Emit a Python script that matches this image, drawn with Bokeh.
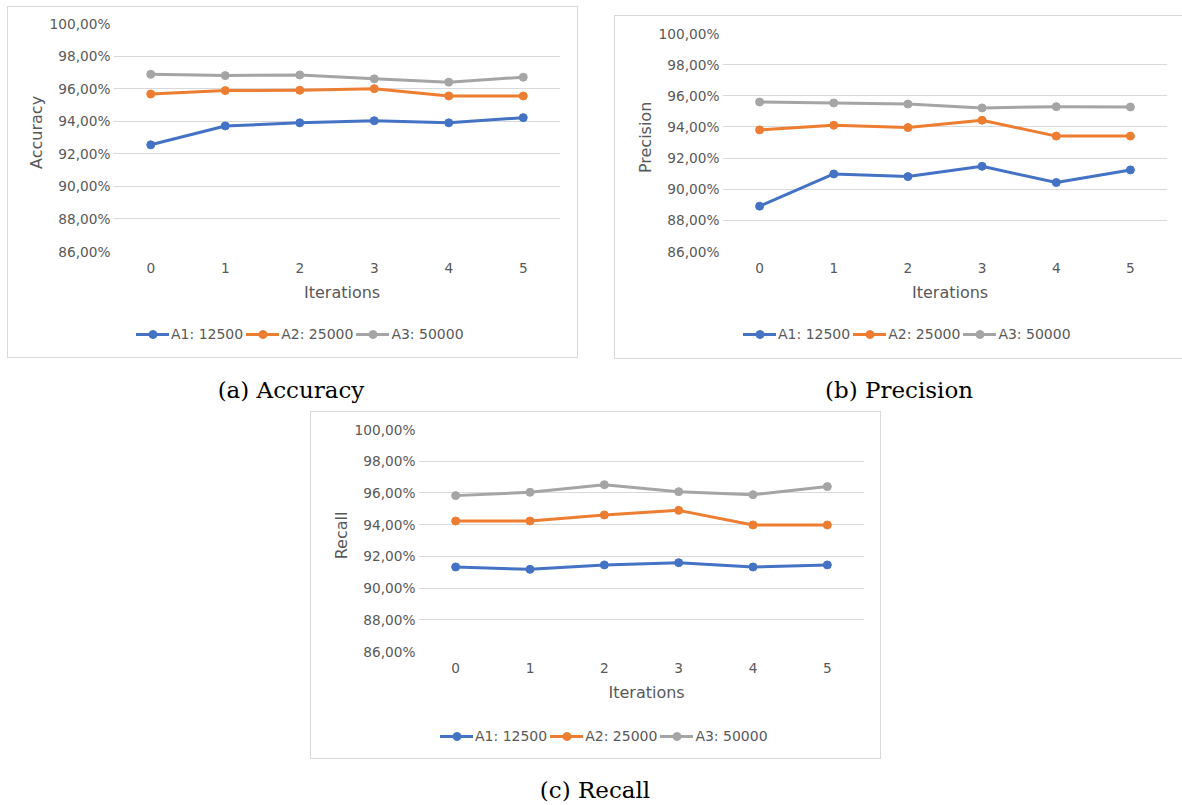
from bokeh.plotting import figure
from bokeh.models import (FactorRange, Range1d, FixedTicker, CustomJSTickFormatter,
                          Legend, LegendItem, Div, Spacer)
from bokeh.layouts import row, column
from bokeh.embed import file_html
from bokeh.resources import INLINE

# ---------------- data ----------------
iterations = ["0", "1", "2", "3", "4", "5"]
series_names = ["A1: 12500", "A2: 25000", "A3: 50000"]
series_colors = ["#4472C4", "#ED7D31", "#A5A5A5"]

accuracy_a1 = [92.55, 93.71, 93.90, 94.03, 93.90, 94.22]
accuracy_a2 = [95.67, 95.88, 95.90, 96.00, 95.55, 95.55]
accuracy_a3 = [96.88, 96.80, 96.84, 96.60, 96.40, 96.70]

precision_a1 = [88.91, 90.98, 90.81, 91.47, 90.43, 91.24]
precision_a2 = [93.81, 94.11, 93.96, 94.43, 93.41, 93.41]
precision_a3 = [95.60, 95.54, 95.47, 95.22, 95.30, 95.28]

recall_a1 = [91.33, 91.18, 91.46, 91.60, 91.33, 91.46]
recall_a2 = [94.23, 94.23, 94.61, 94.90, 93.98, 93.98]
recall_a3 = [95.83, 96.04, 96.52, 96.08, 95.89, 96.40]

y_ticks = [86, 88, 90, 92, 94, 96, 98, 100]
captions = ["(a) Accuracy", "(b) Precision", "(c) Recall"]
x_title = "Iterations"

TEXT = "#595959"
GRID = "#D9D9D9"
FONT = "DejaVu Sans"
OUTLINE = {"outline": "1px solid #D9D9D9", "background": "white"}
NB = "\u00a0\u00a0"  # small lead-in so the titles sit where Excel puts them


def make_chart(ylabel, series, w, h_main, h_leg, bl, br, bt, leg_xy):
    p = figure(x_range=FactorRange(factors=iterations), y_range=Range1d(86, 100),
               width=w, height=h_main, min_border_left=bl, min_border_right=br,
               min_border_top=bt, min_border_bottom=64,
               output_backend="svg", toolbar_location=None, tools="")
    p.outline_line_color = None
    p.background_fill_color = "white"
    p.border_fill_color = "white"

    p.xgrid.grid_line_color = None
    p.ygrid.grid_line_color = GRID
    p.ygrid.grid_line_width = 1
    p.yaxis.ticker = FixedTicker(ticks=y_ticks)
    p.ygrid.ticker = FixedTicker(ticks=y_ticks)
    p.yaxis.formatter = CustomJSTickFormatter(
        code="return tick.toFixed(2).replace('.', ',') + '%';")

    for ax in (p.xaxis[0], p.yaxis[0]):
        ax.axis_line_color = None
        ax.major_tick_line_color = None
        ax.minor_tick_line_color = None
        ax.major_tick_out = 0
        ax.major_tick_in = 0
        ax.minor_tick_out = 0
        ax.major_label_text_font = FONT
        ax.major_label_text_font_size = "13.7px"
        ax.major_label_text_color = TEXT
        ax.axis_label_text_font = FONT
        ax.axis_label_text_font_size = "16px"
        ax.axis_label_text_font_style = "normal"
        ax.axis_label_text_color = TEXT

    p.xaxis.axis_label = NB + x_title
    p.xaxis.major_label_standoff = 11
    p.xaxis.axis_label_standoff = 7
    p.yaxis.axis_label = NB + ylabel
    p.yaxis.major_label_standoff = 3
    p.yaxis.axis_label_standoff = 1

    for vals, col in zip(series, series_colors):
        p.line(x=iterations, y=vals, line_color=col, line_width=3,
               line_join="round", line_cap="round")
        p.scatter(x=iterations, y=vals, size=8, fill_color=col,
                  line_color=col, marker="circle")

    # legend strip (same box, below the plot); its series lie outside its view
    lg = figure(x_range=FactorRange(factors=iterations), y_range=Range1d(0, 1),
                width=w, height=h_leg, min_border=0, x_axis_type=None,
                y_axis_type=None, output_backend="svg", toolbar_location=None,
                tools="")
    lg.outline_line_color = None
    lg.grid.visible = False
    lg.background_fill_color = "white"
    lg.border_fill_color = "white"
    items = []
    for name, vals, col in zip(series_names, series, series_colors):
        ln = lg.line(x=iterations, y=vals, line_color=col, line_width=3,
                     line_cap="round")
        sc = lg.scatter(x=iterations, y=vals, size=8, fill_color=col,
                        line_color=col, marker="circle")
        items.append(LegendItem(label=name, renderers=[ln, sc]))
    leg = Legend(items=items, orientation="horizontal", location=leg_xy,
                 glyph_width=33, glyph_height=20, label_height=20,
                 label_standoff=2, spacing=3, padding=0, margin=0,
                 border_line_color=None, background_fill_alpha=0,
                 label_text_font=FONT, label_text_font_size="14px",
                 label_text_color=TEXT)
    lg.add_layout(leg)
    return column(p, lg, spacing=0, styles=OUTLINE)


box_a = make_chart("Accuracy", [accuracy_a1, accuracy_a2, accuracy_a3],
                   569, 308, 42, 105, 17, 16, (23, 13))
box_b = make_chart("Precision", [precision_a1, precision_a2, precision_a3],
                   567, 299, 43, 107, 15, 17, (21, 14))
box_c = make_chart("Recall", [recall_a1, recall_a2, recall_a3],
                   569, 303, 43, 107, 16, 17, (22, 12))


def caption(text, w, h, pad, lh):
    html = ('<div style="font-family:\'DejaVu Serif\';font-size:23px;'
            f'line-height:{lh}px;padding-top:{pad}px;text-align:center;'
            f'color:#000;width:{w}px;white-space:nowrap">{text}</div>')
    return Div(text=html, width=w, height=h, margin=0)


row1 = row(Spacer(width=8, height=1),
           column(Spacer(width=1, height=7), box_a, spacing=0),
           Spacer(width=38, height=1),
           column(Spacer(width=1, height=16), box_b, spacing=0), spacing=0)
row2 = row(Spacer(width=8, height=1), caption(captions[0], 566, 54, 21, 23),
           Spacer(width=56, height=1),
           caption(captions[1], 538, 54, 21, 23), spacing=0)
row3 = row(Spacer(width=311, height=1), box_c, spacing=0)
row4 = row(Spacer(width=400, height=1), caption(captions[2], 390, 44, 21, 23),
           spacing=0)

layout = column(row1, row2, row3, row4, spacing=0)

open("out.html", "w").write(file_html(layout, INLINE))
